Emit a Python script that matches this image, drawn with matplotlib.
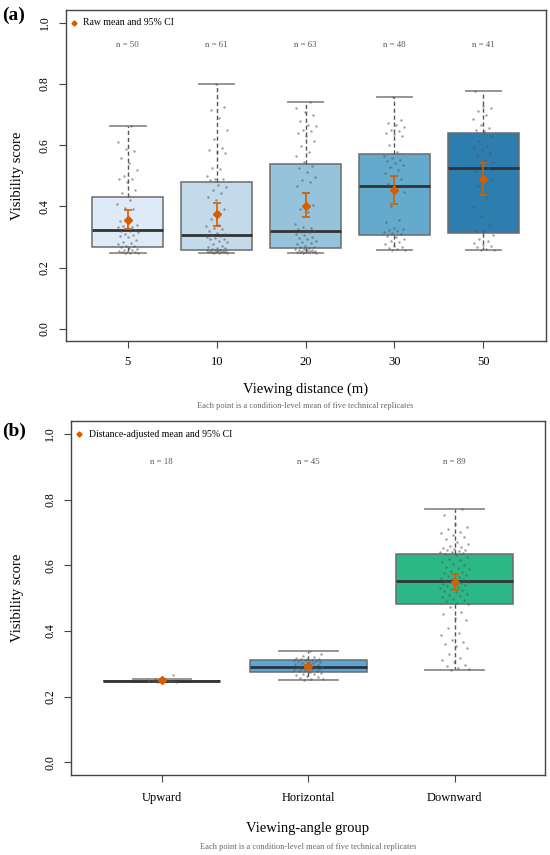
import numpy as np
import matplotlib
matplotlib.use("Agg")
import matplotlib.pyplot as plt

plt.rcParams['font.family'] = ['Liberation Serif', 'DejaVu Serif']

# ---- panel (a): viewing distance ----
dist_labels = ['5', '10', '20', '30', '50']
dist_n = [50, 61, 63, 48, 41]
dist_q1 = [0.267, 0.258, 0.264, 0.307, 0.314]
dist_med = [0.322, 0.308, 0.320, 0.466, 0.525]
dist_q3 = [0.431, 0.481, 0.537, 0.572, 0.640]
dist_lo = [0.247, 0.248, 0.248, 0.256, 0.257]
dist_hi = [0.661, 0.800, 0.740, 0.757, 0.776]
dist_mean = [0.357, 0.375, 0.402, 0.453, 0.489]
dist_ci_lo = [0.327, 0.336, 0.364, 0.408, 0.437]
dist_ci_hi = [0.388, 0.411, 0.443, 0.498, 0.543]
dist_colors = ['#deeaf5', '#c3daeb', '#96c3dc', '#64aacd', '#2d7daf']

pts_5 = [0.247, 0.248, 0.249, 0.250, 0.251, 0.252, 0.254, 0.256, 0.258, 0.260,
         0.263, 0.266, 0.269, 0.272, 0.277, 0.280, 0.285, 0.290, 0.299, 0.302,
         0.306, 0.310, 0.315, 0.319, 0.321, 0.324, 0.330, 0.333, 0.334, 0.336,
         0.338, 0.345, 0.352, 0.392, 0.395, 0.407, 0.420, 0.442, 0.453, 0.478,
         0.488, 0.491, 0.500, 0.520, 0.541, 0.557, 0.581, 0.587, 0.610, 0.661]
pts_10 = [0.248, 0.249, 0.249, 0.250, 0.250, 0.251, 0.251, 0.252, 0.252, 0.253,
          0.254, 0.254, 0.255, 0.256, 0.257, 0.259, 0.261, 0.263, 0.265, 0.268,
          0.272, 0.277, 0.282, 0.288, 0.292, 0.294, 0.297, 0.300, 0.304, 0.307,
          0.310, 0.314, 0.320, 0.325, 0.330, 0.335, 0.338, 0.360, 0.390, 0.420,
          0.430, 0.442, 0.455, 0.464, 0.470, 0.486, 0.488, 0.491, 0.500, 0.521,
          0.524, 0.574, 0.579, 0.585, 0.590, 0.619, 0.648, 0.690, 0.716, 0.724,
          0.800]
pts_20 = [0.248, 0.249, 0.250, 0.250, 0.251, 0.252, 0.252, 0.253, 0.254, 0.255,
          0.256, 0.257, 0.258, 0.260, 0.261, 0.263, 0.266, 0.268, 0.272, 0.276,
          0.280, 0.284, 0.288, 0.292, 0.296, 0.300, 0.305, 0.310, 0.315, 0.317,
          0.319, 0.322, 0.325, 0.328, 0.333, 0.343, 0.381, 0.392, 0.403, 0.445,
          0.466, 0.480, 0.486, 0.497, 0.513, 0.525, 0.532, 0.546, 0.563, 0.576,
          0.596, 0.612, 0.629, 0.640, 0.645, 0.651, 0.662, 0.667, 0.680, 0.700,
          0.708, 0.720, 0.740]
pts_30 = [0.256, 0.257, 0.260, 0.263, 0.266, 0.271, 0.277, 0.283, 0.288, 0.293,
          0.299, 0.304, 0.310, 0.313, 0.315, 0.318, 0.322, 0.326, 0.330, 0.348,
          0.354, 0.400, 0.447, 0.458, 0.472, 0.488, 0.500, 0.509, 0.518, 0.527,
          0.535, 0.543, 0.548, 0.552, 0.557, 0.565, 0.576, 0.600, 0.629, 0.635,
          0.640, 0.645, 0.651, 0.659, 0.665, 0.672, 0.683, 0.757]
pts_50 = [0.257, 0.259, 0.262, 0.266, 0.270, 0.275, 0.280, 0.286, 0.293, 0.305,
          0.318, 0.321, 0.340, 0.370, 0.398, 0.430, 0.466, 0.490, 0.505, 0.515,
          0.525, 0.535, 0.545, 0.552, 0.563, 0.575, 0.585, 0.590, 0.596, 0.612,
          0.630, 0.646, 0.651, 0.655, 0.665, 0.685, 0.699, 0.710, 0.721, 0.729,
          0.776]
dist_points = [pts_5, pts_10, pts_20, pts_30, pts_50]

# ---- panel (b): viewing-angle group ----
angle_labels = ['Upward', 'Horizontal', 'Downward']
angle_n = [18, 45, 89]
angle_q1 = [0.2468, 0.2758, 0.481]
angle_med = [0.2475, 0.289, 0.551]
angle_q3 = [0.2482, 0.3105, 0.636]
angle_lo = [0.2455, 0.2515, 0.281]
angle_hi = [0.2536, 0.338, 0.772]
angle_mean = [0.250, 0.292, 0.548]
angle_ci_lo = [0.2485, 0.287, 0.524]
angle_ci_hi = [0.2515, 0.297, 0.574]
angle_colors = ['#e69f00', '#56a8dc', '#2cb886']

pts_up = [0.2455, 0.2460, 0.2462, 0.2465, 0.2468, 0.2470, 0.2472, 0.2474, 0.2476,
          0.2478, 0.2480, 0.2483, 0.2487, 0.2490, 0.2495, 0.2510, 0.2536, 0.2660]
pts_hor = [0.2515, 0.253, 0.255, 0.257, 0.259, 0.262, 0.265, 0.268, 0.270, 0.272,
           0.275, 0.277, 0.278, 0.280, 0.281, 0.283, 0.284, 0.285, 0.286, 0.287,
           0.288, 0.2885, 0.289, 0.291, 0.293, 0.295, 0.297, 0.299, 0.301, 0.303,
           0.304, 0.306, 0.308, 0.310, 0.311, 0.312, 0.313, 0.314, 0.315, 0.316,
           0.318, 0.320, 0.323, 0.330, 0.338]
pts_down = [0.281, 0.284, 0.287, 0.292, 0.297, 0.306, 0.312, 0.317, 0.330, 0.347,
            0.353, 0.360, 0.367, 0.372, 0.388, 0.395, 0.410, 0.434, 0.439, 0.452,
            0.459, 0.474, 0.483, 0.486, 0.490, 0.494, 0.498, 0.502, 0.506, 0.510,
            0.514, 0.518, 0.522, 0.526, 0.529, 0.532, 0.535, 0.538, 0.540, 0.542,
            0.544, 0.546, 0.548, 0.550, 0.551, 0.553, 0.556, 0.559, 0.562, 0.565,
            0.568, 0.571, 0.574, 0.577, 0.580, 0.584, 0.588, 0.592, 0.596, 0.600,
            0.605, 0.610, 0.615, 0.620, 0.625, 0.630, 0.634, 0.638, 0.640, 0.642,
            0.644, 0.646, 0.648, 0.651, 0.653, 0.656, 0.660, 0.665, 0.672, 0.679,
            0.685, 0.692, 0.697, 0.702, 0.710, 0.717, 0.727, 0.753, 0.772]
angle_points = [pts_up, pts_hor, pts_down]

MEAN_COL = '#D55E00'
FRAME_COL = '#444444'


def draw_panel(ax, labels, n, q1, med, q3, lo, hi, mean, ci_lo, ci_hi,
               colors, points, jit, n_y, legend_text, tick_pad):
    pos = np.arange(1, len(labels) + 1)
    stats = []
    for i in range(len(labels)):
        stats.append(dict(q1=q1[i], med=med[i], q3=q3[i],
                          whislo=lo[i], whishi=hi[i], label=labels[i]))
    bp = ax.bxp(stats, positions=pos, widths=0.8, capwidths=0.4,
                patch_artist=True, showfliers=False,
                boxprops=dict(edgecolor='#6b6b6b', linewidth=1.1),
                whiskerprops=dict(color='#555555', linewidth=1.0,
                                  linestyle=(0, (3, 2))),
                capprops=dict(color='#8c8c8c', linewidth=1.3),
                medianprops=dict(color='#333333', linewidth=2.0))
    for patch, c in zip(bp['boxes'], colors):
        patch.set_facecolor(c)
        patch.set_zorder(2)

    # jittered condition-level points
    for i, vals in enumerate(points):
        k = np.arange(len(vals))
        off = ((k * 0.6180339887 + 0.37) % 1.0 - 0.5) * 2 * jit
        ax.scatter(pos[i] + off, vals, s=3.2, color='#555555', alpha=0.55,
                   linewidths=0, zorder=4)

    m = np.array(mean)
    ax.errorbar(pos, m, yerr=[m - np.array(ci_lo), np.array(ci_hi) - m],
                fmt='D', color=MEAN_COL, ms=3.8, capsize=2.6,
                elinewidth=1.2, capthick=1.2, zorder=6)

    for i in range(len(labels)):
        ax.text(pos[i], n_y, f'n = {n[i]}', ha='center', va='center',
                fontsize=6.3, color='#555555')

    ax.plot([0.017], [0.963], 'D', color=MEAN_COL, ms=2.6,
            transform=ax.transAxes, clip_on=False)
    ax.text(0.037, 0.963, legend_text, transform=ax.transAxes,
            ha='left', va='center', fontsize=7)

    nn = len(labels)
    ax.set_xlim(0.5 - 0.04 * nn, nn + 0.5 + 0.04 * nn)
    ax.set_ylim(-0.04, 1.04)
    ax.set_xticks(pos)
    ax.set_xticklabels(labels)
    ax.set_yticks([0.0, 0.2, 0.4, 0.6, 0.8, 1.0])
    ax.set_yticklabels(['0.0', '0.2', '0.4', '0.6', '0.8', '1.0'])
    ax.tick_params(axis='y', labelrotation=90, labelsize=8.5, length=4.8,
                   width=0.8, color=FRAME_COL, pad=6)
    for t in ax.get_yticklabels():
        t.set_verticalalignment('center')
    ax.tick_params(axis='x', labelsize=9, length=4.8, width=0.8,
                   color=FRAME_COL, pad=tick_pad)
    for sp in ax.spines.values():
        sp.set_color(FRAME_COL)
        sp.set_linewidth(1.0)


W, H = 550, 855
fig = plt.figure(figsize=(W / 100, H / 100), dpi=100)

ax_a = fig.add_axes([65.6 / W, 1 - 341 / H, 480 / W, 330.5 / H])
draw_panel(ax_a, dist_labels, dist_n, dist_q1, dist_med, dist_q3, dist_lo,
           dist_hi, dist_mean, dist_ci_lo, dist_ci_hi, dist_colors,
           dist_points, 0.12, 0.927, 'Raw mean and 95% CI', 6)

ax_b = fig.add_axes([71 / W, 1 - 775.4 / H, 474.5 / W, 354.5 / H])
draw_panel(ax_b, angle_labels, angle_n, angle_q1, angle_med, angle_q3,
           angle_lo, angle_hi, angle_mean, angle_ci_lo, angle_ci_hi,
           angle_colors, angle_points, 0.1, 0.914,
           'Distance-adjusted mean and 95% CI', 7)

# panel tags, axis titles and notes
fig.text(2 / W, 1 - 15 / H, '(a)', fontsize=14, fontweight='bold',
         ha='left', va='center')
fig.text(2 / W, 1 - 431 / H, '(b)', fontsize=14, fontweight='bold',
         ha='left', va='center')

fig.text(18 / W, 1 - 176 / H, 'Visibility score', rotation=90,
         ha='center', va='center', fontsize=10.5)
fig.text(18 / W, 1 - 598 / H, 'Visibility score', rotation=90,
         ha='center', va='center', fontsize=10.5)

fig.text(305.5 / W, 1 - 389.5 / H, 'Viewing distance (m)',
         ha='center', va='center', fontsize=10.5)
fig.text(305.5 / W, 1 - 405.6 / H,
         'Each point is a condition-level mean of five technical replicates',
         ha='center', va='center', fontsize=6, color='#666666')

fig.text(308 / W, 1 - 828 / H, 'Viewing-angle group',
         ha='center', va='center', fontsize=10.5)
fig.text(308 / W, 1 - 847 / H,
         'Each point is a condition-level mean of five technical replicates',
         ha='center', va='center', fontsize=6, color='#666666')

fig.savefig('out.png', dpi=100)
